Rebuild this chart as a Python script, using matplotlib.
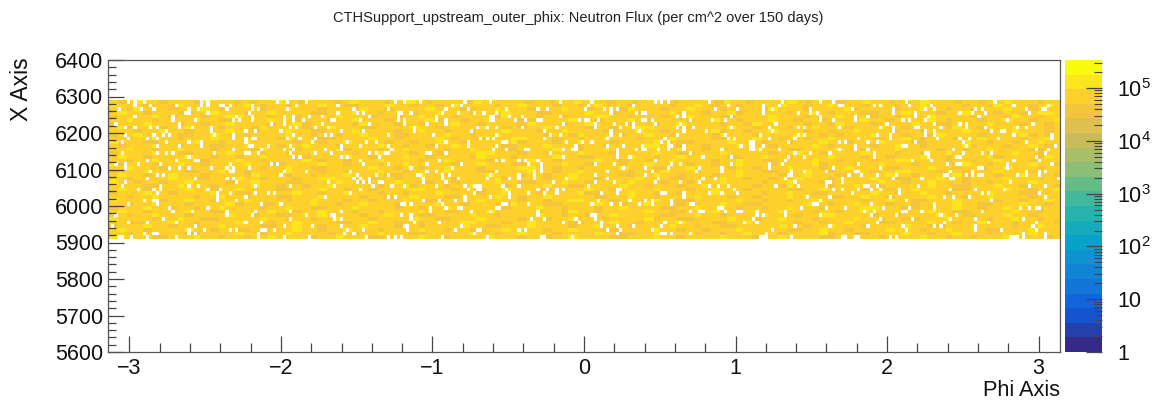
import numpy as np
import matplotlib
matplotlib.use("Agg")
import matplotlib.pyplot as plt
from matplotlib.colors import LinearSegmentedColormap, LogNorm
from matplotlib.ticker import FixedLocator, NullFormatter, FuncFormatter

plt.rcParams['font.family'] = ['Liberation Sans', 'DejaVu Sans']
plt.rcParams['mathtext.fontset'] = 'custom'
plt.rcParams['mathtext.rm'] = 'Liberation Sans'
plt.rcParams['mathtext.default'] = 'regular'

title = "CTHSupport_upstream_outer_phix: Neutron Flux (per cm^2 over 150 days)"
x_label = "Phi Axis"
y_label = "X Axis"

n_phi = 300
y_low, y_high, y_bin = 5910, 6290, 10
z_max = 3.4e5

# empty cells (col, row) read by eye from zoomed crops, row 0 at the top.
# positions are approximate. one list per crop, cols relative to that crop
empty_0 = [(6,0),(8,0),(11,0),(29,0),(31,0),(21,1),(29,1),(31,1),(13,1),(8,1),(3,2),(10,2),(14,2),(25,2),(24,3),(25,3),(31,3),(28,2),(20,4),(20,5),(8,4),(2,6),(27,5),(22,6),(22,7),(26,7),(32,7),(32,8),(5,7),(8,7),(13,7),(15,7),(18,8),(17,9),(19,9),(14,9),(5,9),(6,10),(12,10),(15,10),(4,11),(18,11),(25,11),(29,11),(29,12),(22,12),(15,12),(15,14),(4,14),(18,14),(20,14),(25,15),(12,16),(21,16),(27,16),(28,16),(5,17),(9,17),(16,17),(2,17),(19,18),(22,18),(25,18),(32,18),(5,18),(13,19),(15,20),(17,20),(27,21),(12,21),(4,23),(5,22),(16,23),(16,24),(14,24),(25,23),(28,23),(9,24),(31,24),(15,25),(11,27),(14,27),(15,27),(15,28),(6,28),(19,29),(20,30),(31,29),(26,30),(2,31),(17,32),(6,33),(12,33),(21,33),(1,34),(25,35),(27,34),(30,35),(25,36),(27,36),(3,37),(4,37),(11,36),(12,37),(14,36),(15,36),(7,37),(21,37)]
empty_1 = [(2,1),(3,1),(5,1),(12,1),(12,2),(14,2),(4,2),(20,0),(23,0),(23,2),(26,1),(29,0),(11,3),(7,4),(6,5),(8,5),(12,4),(12,5),(22,4),(22,5),(22,6),(25,4),(25,5),(28,5),(30,4),(18,6),(24,7),(26,7),(32,7),(10,8),(13,8),(21,8),(0,9),(6,9),(6,10),(25,9),(10,10),(12,10),(13,10),(23,10),(27,10),(32,10),(31,11),(10,11),(11,12),(12,12),(17,12),(24,12),(6,13),(15,13),(22,13),(25,13),(10,14),(11,14),(14,14),(0,14),(24,14),(32,14),(25,15),(27,15),(18,17),(20,17),(5,17),(4,18),(6,18),(11,18),(5,19),(6,19),(22,19),(29,19),(21,20),(4,21),(6,21),(7,22),(13,23),(24,23),(2,24),(13,25),(5,25),(17,25),(19,25),(1,25),(1,26),(1,27),(10,26),(7,27),(15,28),(21,28),(4,30),(4,31),(13,30),(12,31),(24,30),(29,31),(24,32),(10,33),(15,33),(22,34),(31,34),(5,35),(7,35),(15,35),(16,35),(19,35),(14,36),(14,37),(22,37),(30,37)]
empty_2 = [(23,0),(26,0),(31,0),(5,1),(10,2),(21,2),(5,3),(11,3),(13,3),(24,3),(25,3),(24,4),(24,5),(28,3),(0,4),(15,4),(3,5),(4,5),(12,5),(26,5),(0,6),(15,6),(26,6),(2,7),(29,7),(29,8),(6,8),(13,8),(1,9),(3,9),(21,9),(8,11),(14,11),(17,11),(6,12),(6,13),(12,12),(21,12),(22,13),(1,13),(3,14),(15,14),(17,14),(20,14),(21,14),(33,14),(6,15),(8,15),(18,15),(12,16),(13,17),(21,17),(28,18),(9,19),(33,19),(21,20),(11,20),(17,20),(30,20),(31,20),(10,21),(12,21),(15,21),(32,21),(11,22),(13,22),(15,22),(18,22),(19,22),(2,22),(32,22),(4,23),(16,23),(22,23),(26,23),(12,24),(9,25),(1,26),(21,26),(23,26),(32,27),(25,28),(26,28),(28,28),(6,30),(3,31),(4,32),(4,31),(6,32),(25,31),(28,31),(28,32),(29,33),(6,34),(26,34),(27,34),(8,35),(13,35),(27,35),(7,36),(10,36),(14,37),(21,37),(23,37),(25,37)]
empty_3 = [(12,0),(20,0),(8,1),(11,1),(6,2),(13,2),(25,2),(5,3),(15,3),(18,3),(22,3),(10,3),(3,4),(3,5),(20,4),(20,5),(21,4),(21,5),(26,4),(30,4),(31,5),(6,5),(6,6),(28,5),(0,6),(16,7),(19,7),(22,7),(30,7),(14,8),(2,9),(22,9),(17,10),(19,10),(21,10),(13,11),(13,12),(6,11),(24,11),(25,11),(22,12),(3,12),(21,13),(25,13),(31,13),(32,13),(1,14),(6,14),(4,16),(22,16),(24,16),(29,16),(31,16),(0,17),(11,17),(32,17),(8,18),(3,19),(22,19),(5,20),(7,20),(20,20),(29,20),(29,21),(5,21),(10,21),(19,21),(26,21),(6,22),(3,23),(12,23),(15,23),(16,23),(17,23),(16,24),(17,24),(24,23),(29,23),(13,24),(25,24),(15,25),(26,25),(32,25),(20,26),(26,26),(12,26),(12,27),(4,27),(9,27),(5,28),(25,28),(32,28),(1,29),(1,30),(6,29),(10,29),(11,29),(23,29),(24,28),(22,29),(14,30),(20,30),(33,32),(4,33),(11,34),(9,35),(16,35),(17,35),(15,36),(29,35),(31,35),(5,37),(19,37)]
empty_4 = [(8,0),(18,0),(1,2),(4,2),(17,1),(16,2),(22,2),(24,2),(24,3),(26,2),(31,1),(32,3),(8,4),(1,5),(2,5),(14,5),(16,5),(17,5),(20,5),(9,6),(19,6),(19,7),(25,6),(29,6),(31,6),(31,7),(7,7),(27,7),(24,8),(24,9),(3,8),(5,9),(8,9),(27,9),(3,10),(23,10),(10,11),(18,11),(15,11),(23,12),(28,12),(13,12),(13,13),(12,13),(9,13),(26,13),(26,14),(26,15),(32,13),(5,14),(9,15),(30,15),(1,16),(2,17),(2,18),(2,19),(19,17),(25,17),(0,19),(0,20),(0,21),(28,18),(23,19),(19,20),(10,21),(19,22),(23,21),(6,22),(25,22),(17,23),(4,24),(1,24),(7,24),(7,25),(9,24),(26,24),(27,24),(3,25),(21,25),(26,25),(18,28),(20,27),(24,28),(27,28),(30,27),(1,30),(1,31),(18,31),(19,31),(19,32),(13,32),(3,32),(9,33),(14,33),(21,33),(26,34),(31,34),(21,34),(23,35),(27,35),(26,36),(2,37),(3,37),(12,37)]
empty_5 = [(5,0),(7,0),(9,0),(22,0),(28,1),(1,3),(2,3),(24,2),(31,2),(14,3),(1,5),(2,5),(4,5),(5,6),(12,4),(14,4),(16,5),(13,6),(23,5),(27,5),(29,4),(12,7),(14,7),(14,8),(17,7),(29,7),(0,8),(21,8),(12,9),(27,9),(28,10),(30,10),(8,10),(7,11),(9,11),(9,12),(9,13),(1,12),(2,13),(1,13),(14,12),(14,13),(10,12),(6,13),(26,13),(32,12),(16,14),(20,15),(29,15),(5,16),(10,17),(13,17),(9,18),(2,18),(19,18),(26,18),(26,19),(29,17),(4,19),(18,19),(2,20),(6,21),(5,22),(13,22),(19,22),(20,21),(24,21),(22,23),(25,23),(28,23),(30,24),(7,25),(8,25),(14,25),(14,26),(22,25),(26,25),(31,25),(4,27),(4,28),(2,27),(10,27),(10,28),(0,28),(16,28),(17,28),(25,29),(26,29),(27,30),(19,30),(20,30),(16,30),(31,30),(32,30),(8,33),(13,33),(7,34),(10,36),(7,36),(8,36),(16,36),(4,35)]
empty_6 = [(12,0),(24,0),(28,0),(6,1),(6,2),(6,3),(11,1),(9,2),(30,1),(31,1),(21,2),(21,3),(17,3),(23,3),(24,4),(24,5),(28,5),(10,6),(8,7),(17,7),(19,7),(30,7),(9,8),(5,9),(17,9),(19,9),(8,10),(16,10),(14,11),(30,11),(32,11),(2,11),(3,11),(2,12),(3,12),(2,13),(3,13),(6,12),(5,13),(11,13),(30,13),(16,14),(21,14),(27,14),(19,15),(14,15),(13,16),(12,17),(8,17),(8,18),(26,19),(28,18),(15,19),(19,19),(14,20),(15,20),(33,20),(13,21),(31,21),(31,22),(16,22),(26,22),(26,23),(27,22),(17,23),(10,23),(28,24),(31,24),(20,26),(27,26),(22,28),(23,28),(24,27),(18,29),(26,29),(32,29),(4,30),(13,30),(4,31),(6,31),(13,31),(24,31),(3,32),(0,33),(4,33),(16,34),(27,34),(9,35),(7,36),(5,37),(6,37),(7,37),(15,37),(31,37),(32,37)]
empty_7 = [(17,0),(7,1),(9,1),(18,1),(25,1),(13,2),(13,3),(23,2),(26,2),(0,2),(5,4),(1,4),(1,5),(20,3),(20,4),(24,4),(16,5),(18,5),(23,5),(11,6),(26,6),(20,7),(21,7),(9,7),(13,7),(13,8),(28,7),(23,8),(23,9),(26,8),(26,9),(8,9),(12,9),(12,10),(27,10),(2,10),(8,11),(5,11),(20,11),(16,12),(17,12),(1,12),(1,13),(5,13),(32,13),(7,14),(7,15),(23,14),(24,15),(25,16),(24,14),(33,15),(19,16),(30,17),(2,17),(33,17),(9,18),(1,19),(2,19),(31,19),(3,20),(8,20),(14,20),(29,20),(30,20),(13,21),(22,21),(31,21),(32,21),(4,23),(5,23),(8,23),(21,23),(2,24),(6,24),(9,24),(15,24),(15,25),(31,24),(0,25),(12,26),(29,26),(32,26),(17,27),(6,28),(26,28),(10,29),(18,29),(26,29),(4,30),(7,30),(16,30),(17,30),(22,30),(6,31),(14,31),(28,31),(9,32),(19,32),(31,32),(8,33),(29,33),(5,34),(16,34),(28,34),(26,34),(17,35),(1,37),(2,37),(12,37),(14,37)]
empty_8 = [(12,0),(18,1),(29,1),(6,2),(8,2),(27,2),(28,2),(22,2),(1,3),(5,3),(9,3),(23,3),(7,4),(1,6),(16,5),(3,6),(3,7),(24,6),(9,7),(22,7),(19,7),(11,8),(14,8),(15,8),(18,9),(30,9),(30,10),(1,10),(4,10),(13,10),(2,11),(3,12),(22,11),(31,12),(25,13),(29,13),(2,14),(8,14),(11,14),(28,14),(0,15),(1,15),(25,15),(18,16),(26,16),(0,17),(1,17),(16,17),(16,18),(30,17),(7,18),(8,18),(5,19),(22,19),(26,19),(28,19),(3,20),(5,20),(7,20),(8,20),(19,20),(22,20),(26,20),(32,21),(17,22),(23,23),(28,23),(6,24),(15,24),(8,25),(10,25),(26,25),(4,26),(28,26),(11,27),(20,29),(23,29),(25,29),(26,29),(8,30),(0,31),(6,32),(21,32),(25,33),(10,33),(6,34),(6,35),(24,34),(14,35),(17,37),(18,37),(19,37),(21,36),(21,37),(28,36),(28,37),(25,35)]
crop_first_col = [0, 33, 67, 100, 134, 167, 200, 234, 267]

# flux levels of the filled cells: o orange, g gold, y bright yellow.
# hand estimate of the mottling, the real cell values can't be read one by one
flux_level = {'o': 3.8e4, 'g': 7.0e4, 'y': 1.3e5}
flux_rows = [
    "gogyggogggoygggogoggyggogggogygggoggygoggggoygggggoggoggygggoggoggygoggggoyggoggggygogggoggyggogggygggoggoggygggogg",
    "ygggoggoyggggoggygoggogggyggoogggyggoggogyggggoggygggoggogygggoggggoggygoggoggggyggoggygggogggoggyggggoggoygggogyg",
    "ggoygggogggygoggggoggygggogggoyggoggggygggooggygggogggyggogggoygggoggygggoggggoygggoggggyoggggoggyggoggogggyggoggg",
    "gyggogggooggygggoggyggggoogggyggogggoggygggogggygggooggggyggoggogggygggoggyogggggoggygogggoogggygggoggygggoggogyyg",
    "oggggygogggoggyygggoggoggggygggoggoggygggoggggoygggoggogggyyggogggoggygggooggggygggogggygggoggogggyggggogggoyggogg",
    "ggyggoggggyggooggggyggogggoggygggoggggyoggoggygggooggggyggogggygoggggoggyggogggyggoggoggggyggoggggygogggoggyggoggy",
    "ogggygggoggoggyggggoggyogggggoygggoggogggyggoggggoygggoggyggggoggoggyggggoggoygggggoggoygggoggggyggooggggygggoggog",
    "gyogggoggygggogggoyggggoggygggooggggyggoggggyggogoggyggggoggoggyygggooggggyggogggoggygggogggyggoggggoyggogggygggog",
    "gggoggyggoggggyggogggyggoogggyggggoggyggoggogggygggoggyggggooggyggogggggyoggoggygggoggoggyggggoggoggggyggoggygggog",
    "oggyggggooggygggoggggyggoggoggygggooggggyggoggygggggoggoyggggoggyggoggggoygggoggggyggogogggygggoggoyggggoggggyogog",
    "ggoggyggogggyggggoggoygggooggggyggoggggygoggogggyygggoggoggygggogggyggggoogggyggoggoggygggggoggygogggoggyggggoggyg",
    "ygggooggggyggoggygggggoggoggyggggoggoggyggogggggyogggoggygggoggggyggooggggygggoggogggyggogggygggooggggyggoggoggygg",
    "gogggyggogggooggygggoggygggoggggyggoggoggygggggoogggygggoggoggggyyggoggogggygggoggggygoggggoggyggoggggyogggoggygog",
    "ggyggoggygggoggggoygggoggggyogggoggyggggoggygggooggggyggoggygggoggggyggogogggygggooggggyggogggyggggoggoggyggggoogg",
    "oggggyggooggggygggoggoggyggggoggygggoggoggggyygggoggogggygggoggggyggoogggygggggoggyggoggggygggoggoggyggggoggyggogg",
    "gyggoggggyggoggoggygggooggggyggogggyggoggggoygggoggggyggooggggyggoggygggggooggyggoggggygggoggogggyggoggggyoggggoyg",
    "ggoggyggggoogggyggoggggygoggogggyggggoggyggggoogggyggoggggyggoggoggyggggoggyggooggggyggogggoggyyggggoggoggygggoggg",
    "yogggoggyggoggggyggooggggyggogggoggygggggoggygggooggggyggogggoggyggggoggoggygggoggggyogggoggygggoggggoyggoggggyggo",
    "ggygggoggoggggygggoggyggoogggggyggoggoggygggoggggyyggoggoggggygggooggyggggoggogggygggoggyggggoogggyggoggoggygggogg",
    "ogggyggggooggyggoggggygggoggogggyggoggggygggooggggyggoggygggggoggoygggoggggyggoogggyggoggggoggyygggoggogggygggoggg",
    "gyggoggygggoggggoygggoggogggyggggooggyggoggggygggoggoggygggggooggyggogggoggyggggoggygggooggggyggoggggyogggoggygggo",
    "ggoggggyggoogggyggogggoggyyggggoggoggygggoggggyoggggoggyggoggggygggooggggyggoggoggygggoggggyggoogggyggoggggygggogg",
    "yggoggoggyggggoggygggooggggyggogggygggoggoggggyggoogggyggoggggygggoggogggyggggoggygggoogggggyggoggygggoggoggggyggg",
    "ggggooggygggoggggyggoggoggygggggoggyogggoggygggoggggyggooggggyggogggoggygggggoggoyggggoggyggogggggyggoogggyggogggo",
    "gyggoggggyggoggyggggoogggyggoggoggggyygggoggoggygggooggggyggoggggygggoggygggoggggooggyggggoggoggyggggooggggyggoggy",
    "ogggyggoggggyggoogggggyggoggygggoggogggyggggoggygggoggggyoogggyggoggogggygggggoggyggoogggggyggoggyggoggggygggooggg",
    "ggoggyggggoggyggogggoogggyggggoggoggygggooggggyggoggygggggooggyggoggggygggoggogggyggggooggyggoggggygggoggyggggoggg",
    "yggggooggyggogggyggggoggygggoggogggyggooggggyggggoggoggyygggoggggyggoogggggyggoggoggygggggoggyggoogggyggggoggoggyg",
    "ggoggygggoggggyoggooggggyggoggygggoggggyggoggggoygggooggggyggoggygggoggggyggoogggggyggoggygggoggoggggyggoogggyggog",
    "ogggyggoggoggyggggoggyggoogggyggggoggoggygggggoogggyggogggoggyggggooggyggggoggoggygggoggggyygggooggggyggoggygggogg",
    "gyggoggggyggoogggggyggoggygggoggoggggyggoogggygggggoggoyggogggggyggoogggyggoggggygggoggoggyggggoggyggoogggggyggogg",
    "ggoggygggoggggyggoggoogggyggggoggygggooggggyggoggggyggoggoggygggggooggyggoggggygggoggyyggggoggoggggyggoogggyggoggg",
    "yggggoggyggoogggggyggoggoggygggoggggyggoogggyggggoggoggygggoggggyoggooggggyggoggygggoggggyggoggoogggyggggoggyggogg",
    "ggoogggyggoggggygggoggyggggooggyggoggoggggyygggoggyggggoogggyggoggggygggooggygggggoggoggygggooggggyggoggygggoggggo",
    "ogggyggoggoggyggggooggyggoggggygggoggoggggyggoogggyggggoggygggoggggyggoggoogggggyggoggygggoggggyggoogggyggggoggygg",
    "gyggoggggyggoggoogggggyggoggygggoggggyggoggooggyggggoggygggooggggyggoggogggygggggooggyggoggggygggoggyggggoogggyggg",
    "ggoggygggooggggyggoggyggggoggoggygggoogggggyggoggygggoggggyggooggyggggoggoggygggoggggyoggooggggyggoggygggoggggyggg",
    "yggggoogggyggoggoggyggggoggygggooggggyggoggggygggoggoggyggggoogggyggoggggygggoggyggggooggyggoggggyggoggogggyggggog",
]


def build_cells():
    # flux per cell, nan where nothing was filled
    rows = []
    for line in flux_rows:
        idx = np.arange(n_phi) * len(line) // n_phi
        rows.append([flux_level[line[i]] for i in idx])
    cells = np.array(rows)
    crops = [empty_0, empty_1, empty_2, empty_3, empty_4, empty_5, empty_6, empty_7, empty_8]
    for first, crop in zip(crop_first_col, crops):
        for col, row in crop:
            if first + col < n_phi:
                cells[row, first + col] = np.nan
    return cells[::-1]  # row 0 was the top


def power_label(v, pos):
    if v == 1:
        return "1"
    if v == 10:
        return "10"
    return "$10^{%d}$" % round(np.log10(v))


# ROOT kBird palette, 20 contours
bird = [(0.2082, 0.1664, 0.5293), (0.0592, 0.3599, 0.8684), (0.0780, 0.5041, 0.8385),
        (0.0232, 0.6419, 0.7914), (0.1802, 0.7178, 0.6425), (0.5301, 0.7492, 0.4662),
        (0.8186, 0.7328, 0.3499), (0.9956, 0.7862, 0.1968), (0.9764, 0.9832, 0.0539)]
cmap = LinearSegmentedColormap.from_list("bird", bird, N=20)

W, H = 1153, 405
fig = plt.figure(figsize=(W / 100, H / 100), dpi=100)
ax = fig.add_axes([108 / W, 1 - 352 / H, 952 / W, 292 / H])
cax = fig.add_axes([1065 / W, 1 - 352 / H, 37 / W, 292 / H])

phi_edges = np.linspace(-np.pi, np.pi, n_phi + 1)
y_edges = np.arange(y_low, y_high + y_bin, y_bin)
mesh = ax.pcolormesh(phi_edges, y_edges, np.ma.masked_invalid(build_cells()),
                     cmap=cmap, norm=LogNorm(1, z_max), antialiased=False, linewidth=0)

ax.set_xlim(-np.pi, np.pi)
ax.set_ylim(5600, 6400)
ax.set_xticks(np.arange(-3, 4))
ax.set_xticks(np.arange(-3, 3.01, 0.2), minor=True)
ax.set_yticks(np.arange(5600, 6401, 100))
ax.set_yticks(np.arange(5600, 6401, 20), minor=True)
ax.set_xticklabels(["\u22123", "\u22122", "\u22121", "0", "1", "2", "3"])
ax.tick_params(axis='both', which='major', direction='in', colors='#444444', labelcolor='#111111',
               labelsize=15.5, width=0.9)
ax.tick_params(axis='x', which='major', length=11.5, pad=4.5)
ax.tick_params(axis='y', which='major', length=11.5, pad=3.5)
ax.tick_params(axis='x', which='minor', direction='in', length=6.5, width=0.9, color='#444444')
ax.tick_params(axis='y', which='minor', direction='in', length=6, width=0.9, color='#444444')
for spine in ax.spines.values():
    spine.set_color('#555555')
    spine.set_linewidth(0.9)

cb = fig.colorbar(mesh, cax=cax)
cb.outline.set_visible(False)
cb.solids.set_antialiased(False)
cax.yaxis.set_major_locator(FixedLocator([10.0 ** n for n in range(6)]))
cax.yaxis.set_major_formatter(FuncFormatter(power_label))
minor = [m * 10.0 ** n for n in range(6) for m in range(2, 10) if m * 10.0 ** n < z_max]
cax.yaxis.set_minor_locator(FixedLocator(minor))
cax.yaxis.set_minor_formatter(NullFormatter())
cax.tick_params(axis='y', which='major', direction='in', length=11.5, width=0.9, color='#444444',
                labelsize=15.5, labelcolor='#111111', pad=11)
cax.tick_params(axis='y', which='minor', direction='in', length=5.5, width=0.8, color='#444444')

fig.text(578 / W, 1 - 18 / H, title, ha='center', va='center', fontsize=10.55, color='#222222')
fig.text(1060 / W, 1 - 390 / H, x_label, ha='right', va='center', fontsize=15.7, color='#111111')
fig.text(22 / W, 1 - 57 / H, y_label, ha='center', va='top', rotation=90, fontsize=16.5, color='#111111')

fig.savefig("out.png", dpi=100)
